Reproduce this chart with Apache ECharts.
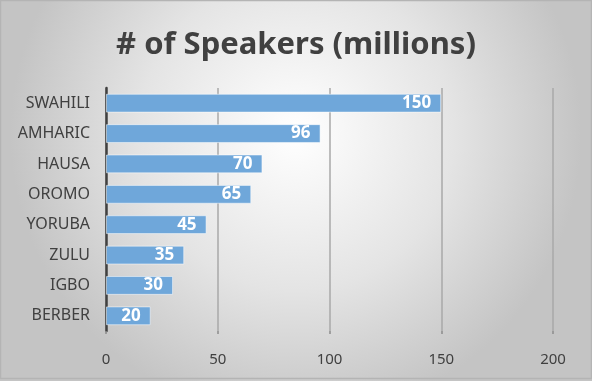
<!DOCTYPE html>
<html>
<head>
<meta charset="utf-8">
<script src="https://cdn.jsdelivr.net/npm/echarts@6/dist/echarts.min.js"></script>
<style>
html,body{margin:0;padding:0;}
#c{width:592px;height:381px;}
</style>
</head>
<body>
<div id="c"></div>
<script>
const categories = ["SWAHILI","AMHARIC","HAUSA","OROMO","YORUBA","ZULU","IGBO","BERBER"];
const speakers = [150, 96, 70, 65, 45, 35, 30, 20];
const titleText = "# of Speakers (millions)";

const chart = echarts.init(document.getElementById('c'));
chart.setOption({
  animation: false,
  backgroundColor: {
    type: 'radial', x: 0.5, y: 0.35, r: 0.75,
    colorStops: [
      {offset: 0, color: '#ffffff'},
      {offset: 0.55, color: '#e4e4e4'},
      {offset: 1, color: '#c4c4c4'}
    ]
  },
  graphic: [{
    type: 'rect',
    shape: {x: 0.5, y: 0.5, width: 591, height: 378},
    style: {fill: 'none', stroke: '#b4b4b4', lineWidth: 1.5},
    silent: true
  }],
  title: {
    text: titleText,
    left: 'center',
    top: 25,
    textStyle: {
      fontFamily: 'Noto Sans',
      fontSize: 31,
      fontWeight: 'bold',
      color: '#404040'
    }
  },
  grid: {left: 106, right: 39, top: 88, bottom: 50, containLabel: false},
  xAxis: {
    type: 'value',
    min: 0, max: 200, interval: 50,
    axisLine: {show: false},
    axisTick: {show: true, length: 3, lineStyle: {color: '#8c8c8c', width: 1.5}},
    splitLine: {show: true, lineStyle: {color: '#a8a8a8', width: 1.5}},
    axisLabel: {
      margin: 21,
      fontFamily: 'Noto Sans',
      fontSize: 15,
      color: '#404040'
    }
  },
  yAxis: {
    type: 'category',
    data: categories,
    inverse: true,
    axisLine: {show: true, lineStyle: {color: '#404040', width: 2.5}},
    axisTick: {show: false},
    axisLabel: {
      margin: 16,
      fontFamily: 'Noto Sans',
      fontSize: 16,
      color: '#404040'
    }
  },
  series: [{
    type: 'bar',
    data: speakers,
    barCategoryGap: '38%',
    itemStyle: {
      color: '#6fa7da',
      borderColor: 'rgba(255,255,255,0.5)',
      borderWidth: 1
    },
    label: {
      show: true,
      position: 'insideRight',
      distance: 10,
      fontFamily: 'Noto Sans',
      fontSize: 17,
      fontWeight: 'bold',
      color: '#ffffff'
    }
  }]
});
</script>
</body>
</html>
